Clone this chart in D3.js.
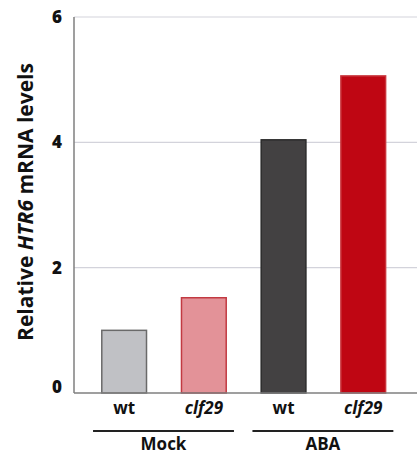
<!DOCTYPE html>
<html>
<head>
<meta charset="utf-8">
<script src="https://cdn.jsdelivr.net/npm/d3@7"></script>
<style>
  html, body { margin: 0; padding: 0; background: #fff; }
  svg { display: block; font-family: "Open Sans", sans-serif; }
</style>
</head>
<body>
<svg id="chart" width="417" height="454"></svg>
<script>
// Relative HTR6 expression, wild type vs clf29, mock vs ABA treatment
const genotypes = ["wt", "clf29", "wt", "clf29"];
const treatments = ["Mock", "Mock", "ABA", "ABA"];
const values = [1.0, 1.52, 4.04, 5.06];
const fills = ["#c0c1c5", "#e39298", "#434142", "#bf0613"];
const strokes = ["#6a6a6a", "#c23a42", "#2b2b2b", "#c9343c"];
const yTicks = [0, 2, 4, 6];
const groups = ["Mock", "ABA"];

const svg = d3.select("#chart");
const x0 = 74, x1 = 417, yTop = 17, yBot = 393;

const ids = d3.range(values.length);
const x = d3.scaleBand().domain(ids).range([84.3, 403.1])
  .paddingInner(0.42).paddingOuter(0.21);
const y = d3.scaleLinear().domain([0, 6]).range([yBot, yTop]);

// horizontal grid lines
svg.append("g").selectAll("line").data(yTicks.filter(t => t > 0)).join("line")
  .attr("x1", x0).attr("x2", x1)
  .attr("y1", d => y(d)).attr("y2", d => y(d))
  .attr("stroke", "#d3d3db").attr("stroke-width", 1.2);

// bars
svg.append("g").selectAll("rect").data(ids).join("rect")
  .attr("x", i => x(i) + 0.75)
  .attr("width", x.bandwidth() - 1.5)
  .attr("y", i => y(values[i]))
  .attr("height", i => yBot - y(values[i]))
  .attr("fill", i => fills[i])
  .attr("stroke", i => strokes[i])
  .attr("stroke-width", 1.5);

// axes lines
svg.append("line").attr("x1", x0).attr("x2", x0).attr("y1", yTop).attr("y2", yBot)
  .attr("stroke", "#7f7f7f").attr("stroke-width", 1.5);
svg.append("line").attr("x1", x0).attr("x2", x1).attr("y1", yBot).attr("y2", yBot)
  .attr("stroke", "#7f7f7f").attr("stroke-width", 1.5);

// y tick labels
svg.append("g").selectAll("text").data(yTicks).join("text")
  .attr("x", 62).attr("y", d => y(d) - (d === 0 ? 6 : 0))
  .attr("dy", "0.36em")
  .attr("text-anchor", "end")
  .attr("font-size", 17).attr("font-weight", 800).attr("fill", "#111")
  .text(d => d);

// y axis title
const title = svg.append("text")
  .attr("transform", `translate(33,${(yTop + yBot) / 2 - 3}) rotate(-90)`)
  .attr("text-anchor", "middle")
  .attr("font-size", 21).attr("font-weight", "bold").attr("fill", "#111");
title.append("tspan").text("Relative ");
title.append("tspan").attr("font-style", "italic").text("HTR6");
title.append("tspan").text(" mRNA levels");

// genotype labels
svg.append("g").selectAll("text").data(ids).join("text")
  .attr("x", i => x(i) + x.bandwidth() / 2)
  .attr("y", 414)
  .attr("text-anchor", "middle")
  .attr("font-size", 17).attr("font-weight", "bold").attr("fill", "#111")
  .attr("font-style", i => genotypes[i] === "wt" ? "normal" : "italic")
  .text(i => genotypes[i]);

// treatment brackets and labels
groups.forEach(g => {
  const members = ids.filter(i => treatments[i] === g);
  const left = x(members[0]) - 8;
  const right = x(members[members.length - 1]) + x.bandwidth() + 7;
  svg.append("line").attr("x1", left).attr("x2", right)
    .attr("y1", 431).attr("y2", 431)
    .attr("stroke", "#222").attr("stroke-width", 2);
  svg.append("text").attr("x", (left + right) / 2).attr("y", 450)
    .attr("text-anchor", "middle")
    .attr("font-size", 17).attr("font-weight", "bold").attr("fill", "#111")
    .text(g);
});
</script>
</body>
</html>
